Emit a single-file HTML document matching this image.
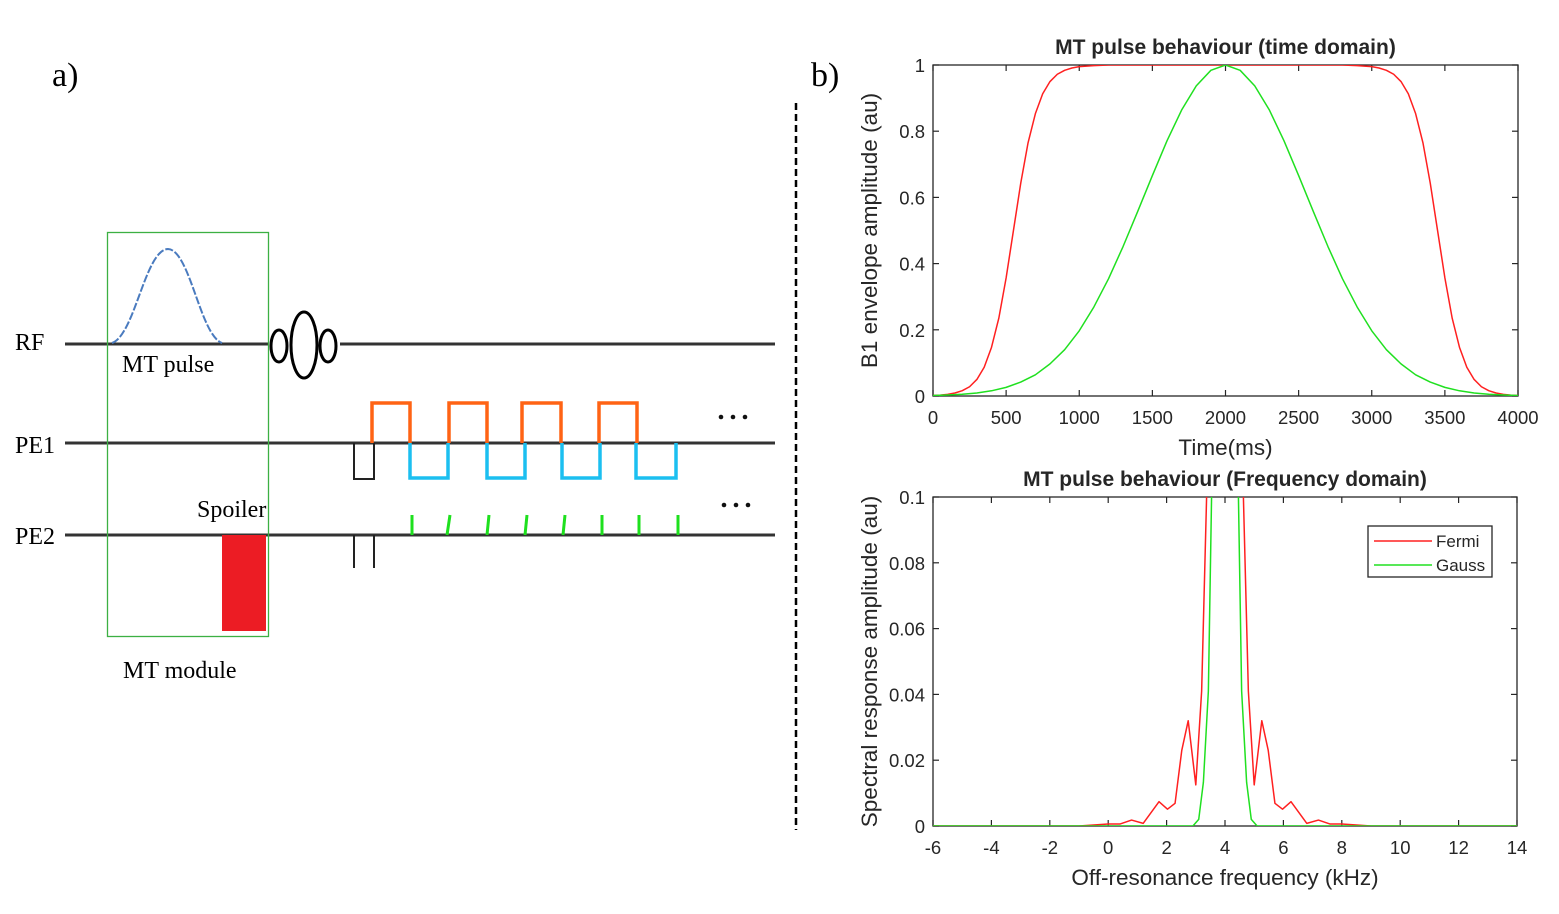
<!DOCTYPE html>
<html><head><meta charset="utf-8"><style>
html,body{margin:0;padding:0;background:#fff}
svg{display:block}
.tm{font-family:"Liberation Serif",serif;font-size:24px;fill:#000}
.ar{font-family:"Liberation Sans",sans-serif;fill:#262626}
</style></head><body>
<svg id="svg" width="1559" height="914" viewBox="0 0 1559 914" xmlns="http://www.w3.org/2000/svg">
<defs>
<clipPath id="clipTop"><rect x="933" y="65" width="585" height="331"/></clipPath>
<clipPath id="clipBot"><rect x="933" y="497" width="584" height="329"/></clipPath>
</defs>
<g>
<text class="tm" x="52" y="86" style="font-size:34px">a)</text>
<text class="tm" x="811" y="86" style="font-size:34px">b)</text>
<line x1="796" y1="103" x2="796" y2="830" stroke="#000" stroke-width="2.5" stroke-dasharray="7,4"/>
<text class="tm" x="15" y="350">RF</text>
<text class="tm" x="15" y="453">PE1</text>
<text class="tm" x="15" y="544">PE2</text>
<line x1="65" y1="344" x2="268" y2="344" stroke="#333" stroke-width="3"/>
<line x1="340" y1="344" x2="775" y2="344" stroke="#333" stroke-width="3"/>
<line x1="65" y1="443" x2="775" y2="443" stroke="#333" stroke-width="3"/>
<line x1="65" y1="535" x2="775" y2="535" stroke="#333" stroke-width="3"/>
<path d="M112,343 C135,335 145,250 168,249 C190,250 200,335 222,343" fill="none" stroke="#4a7bbf" stroke-width="2" stroke-dasharray="8,2"/>
<rect x="107.5" y="232.5" width="161" height="404" fill="none" stroke="#3cb043" stroke-width="1.3"/>
<text class="tm" x="122" y="372">MT pulse</text>
<text class="tm" x="197" y="517">Spoiler</text>
<text class="tm" x="123" y="678">MT module</text>
<rect x="222" y="535" width="44" height="96" fill="#ec1c24"/>
<ellipse cx="279" cy="346" rx="8" ry="16" fill="none" stroke="#000" stroke-width="3"/>
<ellipse cx="304" cy="345" rx="13" ry="33" fill="none" stroke="#000" stroke-width="3"/>
<ellipse cx="328" cy="346" rx="8" ry="16" fill="none" stroke="#000" stroke-width="3"/>
<polyline points="354,443 354,479 374,479 374,443" fill="none" stroke="#222" stroke-width="2"/>
<g fill="none" stroke="#ff6314" stroke-width="3.5">
<polyline points="372,443 372,403 410,403 410,443"/>
<polyline points="449,443 449,403 487,403 487,443"/>
<polyline points="522,443 522,403 561,403 561,443"/>
<polyline points="599,443 599,403 637,403 637,443"/>
</g>
<g fill="none" stroke="#1cbff0" stroke-width="3.5">
<polyline points="410,443 410,478 448,478 448,443"/>
<polyline points="487,443 487,478 525,478 525,443"/>
<polyline points="562,443 562,478 600,478 600,443"/>
<polyline points="636,443 636,478 676,478 676,443"/>
</g>
<g stroke="#222" stroke-width="2">
<line x1="354" y1="535" x2="354" y2="568"/><line x1="374" y1="535" x2="374" y2="568"/>
</g>
<g stroke="#1ee01e" stroke-width="3">
<line x1="412" y1="515" x2="412" y2="535"/><line x1="450" y1="515" x2="447" y2="535"/>
<line x1="489" y1="515" x2="487" y2="535"/><line x1="527" y1="515" x2="525" y2="535"/>
<line x1="565" y1="515" x2="563" y2="535"/><line x1="602" y1="515" x2="602" y2="535"/>
<line x1="639" y1="515" x2="639" y2="535"/><line x1="678" y1="515" x2="678" y2="535"/>
</g>
<g fill="#111">
<circle cx="721" cy="417" r="2.3"/><circle cx="733" cy="417" r="2.3"/><circle cx="745" cy="417" r="2.3"/>
</g>
<g fill="#111">
<circle cx="724" cy="505" r="2.3"/><circle cx="736" cy="505" r="2.3"/><circle cx="748" cy="505" r="2.3"/>
</g>
</g>
<g id="charts"></g>
</svg>
<script>
// Top chart data (time domain)
const fermiT = [0,50,100,150,200,250,300,350,400,450,500,550,600,650,700,750,800,850,900,950,1000,1100,1200,2000,2800,2900,3000,3050,3100,3150,3200,3250,3300,3350,3400,3450,3500,3550,3600,3650,3700,3750,3800,3850,3900,3950,4000];
const fermiV = [0.0015,0.0028,0.005,0.009,0.016,0.028,0.05,0.087,0.147,0.235,0.357,0.5,0.643,0.765,0.853,0.913,0.95,0.972,0.984,0.991,0.995,0.998,1,1,1,0.998,0.995,0.991,0.984,0.972,0.95,0.913,0.853,0.765,0.643,0.5,0.357,0.235,0.147,0.087,0.05,0.028,0.016,0.009,0.005,0.0028,0.0015];
const gaussT = [0,100,200,300,400,500,600,700,800,900,1000,1100,1200,1300,1400,1500,1600,1700,1800,1900,2000,2100,2200,2300,2400,2500,2600,2700,2800,2900,3000,3100,3200,3300,3400,3500,3600,3700,3800,3900,4000];
const gaussV = [0.0015,0.0029,0.0052,0.0092,0.0157,0.026,0.042,0.064,0.097,0.14,0.197,0.269,0.354,0.452,0.558,0.666,0.771,0.864,0.937,0.984,1,0.984,0.937,0.864,0.771,0.666,0.558,0.452,0.354,0.269,0.197,0.14,0.097,0.064,0.042,0.026,0.0157,0.0092,0.0052,0.0029,0.0015];
const topXTicks = [0,500,1000,1500,2000,2500,3000,3500,4000];
const topYTicks = [0,0.2,0.4,0.6,0.8,1];
// Bottom chart data (frequency domain)
const fermiF = [-6,-1,0,0.4,0.8,1.2,1.74,2.03,2.29,2.52,2.74,3.0,3.2,3.37,3.6,4,4.4,4.63,4.8,5.0,5.26,5.48,5.71,5.97,6.26,6.8,7.2,7.6,8,9,14];
const fermiA = [0,0,0.0006,0.0006,0.0018,0.0008,0.0074,0.0051,0.0069,0.023,0.032,0.0125,0.041,0.1,0.5,1,0.5,0.1,0.041,0.0125,0.032,0.023,0.0069,0.0051,0.0074,0.0008,0.0018,0.0006,0.0006,0,0];
const gaussF = [-6,2.9,3.1,3.26,3.43,3.54,4,4.46,4.57,4.74,4.9,5.1,14];
const gaussA = [0,0,0.002,0.0133,0.041,0.1,1,0.1,0.041,0.0133,0.002,0,0];
const botXTicks = [-6,-4,-2,0,2,4,6,8,10,12,14];
const botYTicks = [0,0.02,0.04,0.06,0.08,0.1];

const NS = "http://www.w3.org/2000/svg";
const root = document.getElementById('charts');
function mk(tag, attrs, parent){const e=document.createElementNS(NS,tag);for(const k in attrs)e.setAttribute(k,attrs[k]);(parent||root).appendChild(e);return e;}

function drawChart(cfg){
  const g = mk('g',{});
  
  
  const sx = v => cfg.x0 + (v - cfg.xmin) / (cfg.xmax - cfg.xmin) * (cfg.x1 - cfg.x0);
  const sy = v => cfg.y0 - (v - cfg.ymin) / (cfg.ymax - cfg.ymin) * (cfg.y0 - cfg.y1);
  const frame = mk('rect',{x:cfg.x0,y:cfg.y1,width:cfg.x1-cfg.x0,height:cfg.y0-cfg.y1,fill:'#fff',stroke:'#262626','stroke-width':1.3},g);
  
  
  cfg.xt.forEach(t=>{
    const x=sx(t);
    mk('line',{x1:x,y1:cfg.y0,x2:x,y2:cfg.y0-6,stroke:'#262626','stroke-width':1.2},g);
    mk('line',{x1:x,y1:cfg.y1,x2:x,y2:cfg.y1+6,stroke:'#262626','stroke-width':1.2},g);
    const tx=mk('text',{x:x,y:cfg.y0+28,'text-anchor':'middle',class:'ar','font-size':18.5},g);
    tx.textContent=String(t);
    
    
  });
  cfg.yt.forEach(t=>{
    const y=sy(t);
    mk('line',{x1:cfg.x0,y1:y,x2:cfg.x0+6,y2:y,stroke:'#262626','stroke-width':1.2},g);
    mk('line',{x1:cfg.x1,y1:y,x2:cfg.x1-6,y2:y,stroke:'#262626','stroke-width':1.2},g);
    const tx=mk('text',{x:cfg.x0-8,y:y+7,'text-anchor':'end',class:'ar','font-size':18.5},g);
    tx.textContent=String(t);
    
    
  });
  cfg.series.forEach(s=>{
    const d=s.x.map((v,i)=>(i?'L':'M')+sx(v).toFixed(2)+','+sy(s.y[i]).toFixed(2)).join(' ');
    const p=mk('path',{d:d,fill:'none',stroke:s.color,'stroke-width':1.5,'stroke-linejoin':'round','clip-path':'url(#'+cfg.clip+')'},g);
    
    
  });
  const ti=mk('text',{x:(cfg.x0+cfg.x1)/2,y:cfg.y1-11,'text-anchor':'middle',class:'ar','font-size':21,'font-weight':'bold',fill:'#000'},g);
  ti.textContent=cfg.title;
  
  
  const xl=mk('text',{x:(cfg.x0+cfg.x1)/2,y:cfg.y0+59,'text-anchor':'middle',class:'ar','font-size':22.5},g);
  xl.textContent=cfg.xlabel;
  
  
  const yc=(cfg.y0+cfg.y1)/2;
  const yl=mk('text',{x:cfg.ylx,y:yc,'text-anchor':'middle',class:'ar','font-size':22.5,transform:'rotate(-90 '+cfg.ylx+' '+yc+')'},g);
  yl.textContent=cfg.ylabel;
  
  
  return g;
}
drawChart({name:'time-domain-chart',x0:933,x1:1518,y0:396,y1:65,xmin:0,xmax:4000,ymin:0,ymax:1,xt:topXTicks,yt:topYTicks,clip:'clipTop',
  title:'MT pulse behaviour (time domain)',xlabel:'Time(ms)',ylabel:'B1 envelope amplitude (au)',ylx:877,
  series:[{name:'fermi-time-line',x:fermiT,y:fermiV,color:'#ff2020'},{name:'gauss-time-line',x:gaussT,y:gaussV,color:'#20e020'}]});
const bot=drawChart({name:'frequency-domain-chart',x0:933,x1:1517,y0:826,y1:497,xmin:-6,xmax:14,ymin:0,ymax:0.1,xt:botXTicks,yt:botYTicks,clip:'clipBot',
  title:'MT pulse behaviour (Frequency domain)',xlabel:'Off-resonance frequency (kHz)',ylabel:'Spectral response amplitude (au)',ylx:877,
  series:[{name:'fermi-spectrum-line',x:fermiF,y:fermiA,color:'#ff2020'},{name:'gauss-spectrum-line',x:gaussF,y:gaussA,color:'#20e020'}]});
const lg=mk('g',{},bot);


mk('rect',{x:1368,y:526,width:124,height:51,fill:'#fff',stroke:'#262626','stroke-width':1.3},lg);
const items=[['Fermi','#ff2020',541],['Gauss','#20e020',565]];
items.forEach(it=>{
  const e=mk('g',{},lg);
  
  
  mk('line',{x1:1374,y1:it[2],x2:1432,y2:it[2],stroke:it[1],'stroke-width':1.5},e);
  const t=mk('text',{x:1436,y:it[2]+6,class:'ar','font-size':17,fill:'#000'},e);
  t.textContent=it[0];
});
</script>
</body></html>
